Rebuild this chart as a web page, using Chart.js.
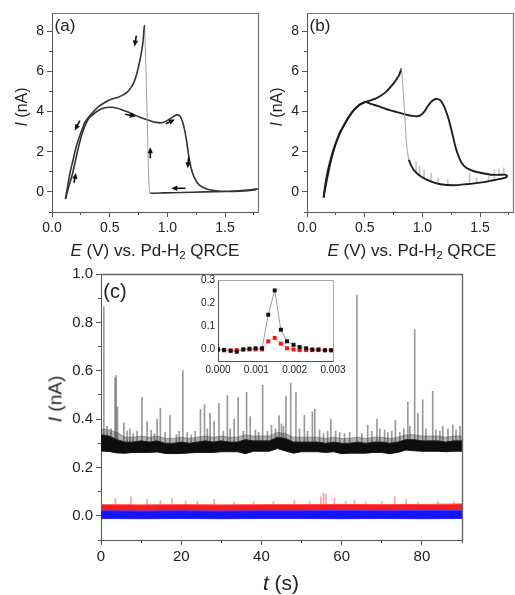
<!DOCTYPE html>
<html>
<head>
<meta charset="utf-8">
<script src="https://cdn.jsdelivr.net/npm/chart.js@4.4.1/dist/chart.umd.min.js"></script>
<style>
body { margin: 0; background: #fff; }
#wrap { position: relative; width: 515px; height: 595px; overflow: hidden; background: #fff;
        font-family: "Liberation Sans", Arial, sans-serif; color: #222; }
canvas { position: absolute; }
.lbl { position: absolute; white-space: nowrap; transform: translate(-50%, -50%); line-height: 1; }
.rot { transform: translate(-50%, -50%) rotate(-90deg); }
sub { font-size: 68%; vertical-align: -0.3em; line-height: 0; }
</style>
</head>
<body>
<div id="wrap">
  <canvas id="chartA" width="262" height="240" style="left:0;top:0"></canvas>
  <canvas id="chartB" width="260" height="240" style="left:255px;top:0"></canvas>
  <canvas id="chartC" width="515" height="333" style="left:0;top:262px"></canvas>
  <canvas id="chartInset" width="170" height="108" style="left:190px;top:270px"></canvas>

  <div class="lbl" style="left:65px;top:25px;font-size:17px">(a)</div>
  <div class="lbl" style="left:320px;top:25px;font-size:17px">(b)</div>
  <div class="lbl" style="left:115px;top:291px;font-size:20px">(c)</div>
  <div class="lbl" style="left:155px;top:250px;font-size:17px"><i>E</i> (V) vs. Pd-H<sub>2</sub> QRCE</div>
  <div class="lbl" style="left:412px;top:250px;font-size:17px"><i>E</i> (V) vs. Pd-H<sub>2</sub> QRCE</div>
  <div class="lbl rot" style="left:22px;top:107px;font-size:16px"><i>I</i> (nA)</div>
  <div class="lbl rot" style="left:277px;top:107px;font-size:16px"><i>I</i> (nA)</div>
  <div class="lbl rot" style="left:55px;top:399px;font-size:19px"><i>I</i> (nA)</div>
  <div class="lbl" style="left:281px;top:582px;font-size:21px"><i>t</i> (s)</div>
</div>
<script>
// ---- panel (a): CV, E (V) and I (nA), in scan order ----
var aE = [0.117,0.142,0.173,0.203,0.233,0.264,0.294,0.325,0.376,0.426,0.477,0.538,0.599,0.66,0.72,0.78,0.84,0.9,0.95,0.99,
          1.035,1.075,1.105,1.125,1.145,1.165,1.185,1.205,1.235,1.275,1.34,1.42,1.52,1.62,1.72,1.78,
          1.76,1.67,1.52,1.32,1.12,0.965,0.873,0.848,0.84,0.832,0.824,0.815,0.807,0.802,
          0.787,0.771,0.751,0.731,0.71,0.68,0.65,0.609,0.568,0.508,0.457,0.406,0.36,0.315,0.284,0.254,0.223,0.203,0.183,0.162,0.142,0.117];
var aI = [-0.35,0.2,0.8,1.55,2.3,2.95,3.4,3.7,3.95,4.12,4.2,4.2,4.1,3.97,3.82,3.68,3.56,3.46,3.44,3.52,
          3.68,3.82,3.8,3.6,3.2,2.6,1.8,1.2,0.7,0.35,0.15,0.06,0.03,0.05,0.1,0.15,
          0.1,0.05,0.02,0.0,-0.03,-0.05,-0.07,-0.03,0.5,2.0,4.0,6.0,7.5,8.3,
          7.4,6.8,6.25,5.8,5.45,5.15,4.95,4.8,4.7,4.6,4.45,4.25,4.0,3.7,3.45,3.0,2.5,2.1,1.6,1.1,0.5,-0.35];
// scan-direction arrows: position and direction (degrees, 0 = right, 90 = down)
var arrowE = [0.723, 0.219, 0.199, 0.68, 1.026, 1.18, 1.095, 0.852];
var arrowI = [7.5, 3.3, 0.7, 3.81, 3.5, 1.45, 0.18, 1.95];
var arrowDir = [100, 118, -78, 12, -25, 95, 180, -90];
var arrowLen = [11, 11, 10, 11, 10, 11, 14, 11];

// ---- panel (b) ----
var bE = [0.144,0.162,0.183,0.203,0.233,0.264,0.305,0.345,0.386,0.426,0.467,0.508,0.558,0.609,0.66,0.71,0.761,0.812,0.863,0.914,
          0.954,0.985,1.015,1.045,1.076,1.106,1.127,1.157,1.188,1.218,1.238,1.264,1.284,1.309,1.34,1.38,1.441,1.523,1.604,1.675,1.71,1.735,
          1.725,1.685,1.614,1.502,1.38,1.269,1.157,1.066,0.985,0.924,0.883,0.863,0.851,0.839,0.828,0.817,
          0.802,0.782,0.751,0.721,0.68,0.639,0.599,0.558,0.518,0.487,0.447,0.406,0.365,0.325,0.284,0.254,0.223,0.193,0.173,0.157,0.144];
var bI = [-0.28,0.3,0.9,1.45,2.1,2.62,3.15,3.58,3.92,4.18,4.38,4.47,4.37,4.28,4.18,4.08,4.0,3.92,3.84,3.78,
          3.76,3.82,3.98,4.25,4.48,4.6,4.63,4.55,4.25,3.8,3.4,2.8,2.3,1.85,1.45,1.2,1.04,0.93,0.85,0.85,0.86,0.8,
          0.72,0.66,0.58,0.46,0.38,0.33,0.38,0.54,0.78,1.1,1.6,2.4,3.5,4.6,5.5,6.1,
          5.85,5.65,5.4,5.2,4.95,4.78,4.65,4.57,4.5,4.42,4.3,4.08,3.75,3.35,2.95,2.5,1.98,1.35,0.85,0.3,-0.28];
// noise spikes on the (b) trace: E, start, end
var bSpikeE = [0.945,0.975,1.015,1.075,1.135,1.22,1.41,1.47,1.575,1.625,1.665,1.705];
var bSpikeLo = [0.95,0.8,0.68,0.5,0.4,0.34,0.39,0.43,0.53,0.6,0.85,0.85];
var bSpikeHi = [1.5,1.3,1.1,0.95,0.7,0.6,0.95,0.7,0.75,1.1,1.15,1.2];

// ---- panel (c): current bands vs time ----
var tBand = [0,2,4,6,8,10,12,14,16,18,20,22,24,26,28,30,32,34,36,38,40,42,44,46,48,50,52,54,56,58,60,62,64,66,68,70,72,74,76,78,80,82,84,86,88,90];
var blackFuzz = [0.36,0.355,0.345,0.325,0.325,0.33,0.325,0.33,0.32,0.32,0.325,0.32,0.325,0.33,0.325,0.33,0.325,0.325,0.335,0.33,0.33,0.33,0.345,0.34,
                 0.325,0.325,0.325,0.325,0.32,0.325,0.32,0.32,0.325,0.32,0.325,0.325,0.32,0.325,0.335,0.335,0.33,0.33,0.33,0.325,0.33,0.33];
var blackHi = [0.335,0.33,0.315,0.305,0.305,0.31,0.305,0.31,0.3,0.3,0.305,0.3,0.305,0.31,0.305,0.31,0.305,0.305,0.315,0.31,0.31,0.31,0.325,0.32,
               0.305,0.305,0.305,0.305,0.3,0.305,0.3,0.3,0.305,0.3,0.305,0.305,0.3,0.305,0.315,0.315,0.31,0.31,0.31,0.305,0.31,0.31];
var blackLo = [0.268,0.266,0.26,0.259,0.262,0.262,0.262,0.264,0.258,0.257,0.258,0.26,0.262,0.262,0.262,0.265,0.265,0.265,0.257,0.267,0.267,0.267,0.278,0.268,
               0.259,0.265,0.265,0.265,0.262,0.265,0.257,0.259,0.259,0.259,0.262,0.262,0.257,0.262,0.272,0.269,0.267,0.267,0.267,0.265,0.267,0.267];
var tRB = [0,10,20,30,40,50,60,70,80,90];
var redHi = [0.046,0.045,0.046,0.045,0.046,0.046,0.047,0.046,0.047,0.049];
var redLo = [0.022,0.021,0.022,0.021,0.022,0.022,0.023,0.022,0.023,0.024];
var blueHi = [0.021,0.02,0.021,0.02,0.021,0.021,0.022,0.021,0.022,0.022];
var blueLo = [-0.011,-0.012,-0.011,-0.012,-0.011,-0.011,-0.012,-0.011,-0.012,-0.011];
// spikes on black trace (t, peak I)
var spikeT = [0.7,3.5,3.8,4.1,5.7,8,10.2,11.5,14,14.8,17.2,18.8,20.4,22.5,24.8,25.8,27.2,28.2,29.4,31.5,33.2,34.2,36.3,37.2,40.3,42.5,44.4,
              46.1,47.3,48.6,50.7,52.7,53.3,57.3,60.7,63.8,66.5,68.8,70.7,73.4,76.5,78.2,79,80.2,82.7,85.2,87.7,89.5,
              1.5,2.5,6.5,7.2,9,12.5,13.3,16,19.5,21.5,23.5,26.5,30.5,32.2,35.5,38.5,39.3,41.5,43.5,45,45.5,49.5,51.5,54.5,55.5,
              56.5,58.5,59.5,62,65,67.5,69.5,71.5,72.5,74.5,75.5,77,81,83.5,84.5,86.5,88.5];
var spikeI = [0.865,0.57,0.58,0.45,0.385,0.34,0.49,0.39,0.4,0.445,0.415,0.335,0.6,0.335,0.44,0.46,0.425,0.39,0.465,0.497,0.4,0.49,0.51,0.41,0.54,0.375,0.415,
              0.495,0.55,0.51,0.415,0.43,0.44,0.4,0.34,0.913,0.375,0.4,0.355,0.395,0.47,0.77,0.425,0.48,0.515,0.37,0.375,0.37,
              0.37,0.36,0.35,0.36,0.35,0.355,0.34,0.345,0.35,0.345,0.35,0.36,0.35,0.36,0.35,0.355,0.345,0.35,0.36,0.38,0.37,0.36,0.35,0.355,0.34,
              0.35,0.35,0.345,0.345,0.34,0.35,0.36,0.345,0.35,0.345,0.36,0.37,0.36,0.355,0.35,0.36,0.355];
var redSpikeT = [3.6,7.5,11.5,14.8,17.7,21.1,24,28.2,33.2,38,43,48.2,52,54.8,55.5,56.1,58.2,61,63.2,66,70,73.2,76.1,79,84,88];
var redSpikeI = [0.072,0.079,0.068,0.065,0.072,0.061,0.06,0.068,0.058,0.058,0.06,0.065,0.06,0.079,0.095,0.09,0.072,0.06,0.065,0.058,0.06,0.079,0.068,0.058,0.06,0.058];

// ---- inset: one spike event ----
var insetT = [0,0.00016,0.00033,0.00049,0.00066,0.00082,0.00098,0.00115,0.00131,0.00148,0.00164,0.0018,0.00197,0.00213,0.0023,0.00246,0.00262,0.00279,0.00295];
var insetBlack = [0.0,-0.002,-0.006,-0.01,0.0,0.003,0.005,0.005,0.15,0.255,0.085,0.035,0.02,0.01,0.005,0.0,0.0,-0.004,-0.004];
var insetRed = [0.0,-0.004,-0.004,-0.003,0.0,0.0,0.0,0.0,0.035,0.05,0.025,0.005,0.0,-0.003,-0.003,-0.003,-0.003,-0.003,-0.003];

var FONT = "'Liberation Sans', Arial, sans-serif";

function pts(xs, ys) { return xs.map(function (x, i) { return {x: x, y: ys[i]}; }); }
function bars(xs, lo, hi) {
  return xs.map(function (x, i) { return {x: x, y: [Array.isArray(lo) ? lo[i] : lo, hi[i]]}; });
}

function scale(min, max, ticks, digits, fontSize, fit, tickLen) {
  return {
    type: 'linear', min: min, max: max, offset: false,
    afterBuildTicks: function (s) { s.ticks = ticks.map(function (v) { return {value: v}; }); },
    afterFit: function (s) { if (s.isHorizontal()) s.height = fit; else s.width = fit; },
    grid: { drawOnChartArea: false, drawTicks: tickLen > 0, tickLength: tickLen, color: '#555', offset: false },
    border: { color: '#555' },
    ticks: { padding: 3, color: '#222', font: { family: FONT, size: fontSize }, maxRotation: 0, autoSkip: false,
             callback: function (v) { return Number(v).toFixed(digits); } }
  };
}

// box on top/right and minor ticks
var framePlugin = {
  id: 'frame',
  afterDraw: function (chart, args, o) {
    var a = chart.chartArea, c = chart.ctx;
    var px = function (p) { return Math.round(p - 0.5) + 0.5; };
    c.save();
    c.strokeStyle = o.color || '#555';
    c.lineWidth = o.width || 1;
    c.beginPath();
    c.moveTo(px(a.left), px(a.top)); c.lineTo(px(a.right), px(a.top)); c.lineTo(px(a.right), px(a.bottom));
    c.stroke();
    c.strokeStyle = '#555';
    c.lineWidth = 1;
    c.beginPath();
    if (o.minorX) {
      var xs = chart.scales.x;
      for (var k = Math.ceil(xs.min / o.minorX - 1e-6); k * o.minorX <= xs.max + 1e-9; k++) {
        var x = px(xs.getPixelForValue(k * o.minorX));
        c.moveTo(x, a.bottom); c.lineTo(x, a.bottom + o.len);
      }
    }
    if (o.minorY) {
      var ys = chart.scales.y;
      for (var j = Math.ceil(ys.min / o.minorY - 1e-6); j * o.minorY <= ys.max + 1e-9; j++) {
        var y = px(ys.getPixelForValue(j * o.minorY));
        c.moveTo(a.left - o.len, y); c.lineTo(a.left, y);
      }
    }
    c.stroke();
    c.restore();
  }
};

var arrowPlugin = {
  id: 'arrows',
  afterDatasetsDraw: function (chart, args, o) {
    if (!o.E) return;
    var c = chart.ctx, xs = chart.scales.x, ys = chart.scales.y;
    c.save();
    c.fillStyle = '#111'; c.strokeStyle = '#111'; c.lineWidth = 1.6;
    for (var i = 0; i < o.E.length; i++) {
      var cx = xs.getPixelForValue(o.E[i]), cy = ys.getPixelForValue(o.I[i]);
      var ang = o.dir[i] * Math.PI / 180, L = o.len[i];
      var dx = Math.cos(ang), dy = Math.sin(ang);
      var hx = cx + dx * L / 2, hy = cy + dy * L / 2;
      c.beginPath();
      c.moveTo(cx - dx * L / 2, cy - dy * L / 2); c.lineTo(hx - dx * 4, hy - dy * 4); c.stroke();
      c.beginPath();
      c.moveTo(hx, hy);
      c.lineTo(hx - dx * 6 - dy * 2.7, hy - dy * 6 + dx * 2.7);
      c.lineTo(hx - dx * 6 + dy * 2.7, hy - dy * 6 - dx * 2.7);
      c.closePath(); c.fill();
    }
    c.restore();
  }
};

// fast potential jump segments (reverse scan, current rising steeply) are thin and light
function jump(thin, normal) {
  return function (ctx) {
    var dx = ctx.p1.x - ctx.p0.x, dy = ctx.p1.y - ctx.p0.y;
    return (dx < 0.5 && dy < 0 && Math.abs(dy) > 3 * Math.abs(dx) && Math.abs(dy) > 6) ? thin : normal;
  };
}

function cvChart(id, E, I, color, width, extra, plugOpts, padRight) {
  var datasets = [{
    type: 'line', data: pts(E, I), borderColor: color, borderWidth: width, pointRadius: 0, tension: 0.25, fill: false,
    segment: { borderColor: jump('#9c9c9c', color), borderWidth: jump(1, width) }, order: 1
  }];
  if (extra) datasets.push(extra);
  return new Chart(document.getElementById(id), {
    type: 'line',
    data: { datasets: datasets },
    options: {
      responsive: false, animation: false, events: [],
      layout: { padding: { top: 13, right: padRight, left: 0, bottom: 0 } },
      scales: {
        x: scale(0, 1.79, [0, 0.5, 1.0, 1.5], 1, 14, 28, 5),
        y: scale(-1, 8.9, [0, 2, 4, 6, 8], 0, 14, 52, 5)
      },
      plugins: Object.assign({ legend: { display: false }, tooltip: { enabled: false },
                               frame: { color: '#777', width: 1.2, minorX: 0.25, minorY: 1, len: 3 } }, plugOpts)
    },
    plugins: [framePlugin, arrowPlugin]
  });
}

cvChart('chartA', aE, aI, '#333', 1.6, null,
        { arrows: { E: arrowE, I: arrowI, dir: arrowDir, len: arrowLen } }, 3.5);

cvChart('chartB', bE, bI, '#1e1e1e', 1.9,
        { type: 'bar', data: bars(bSpikeE, bSpikeLo, bSpikeHi), backgroundColor: 'rgba(150,150,150,0.55)',
          barThickness: 1, grouped: false, order: 2 },
        { arrows: {} }, 1.5);

new Chart(document.getElementById('chartC'), {
  type: 'line',
  data: {
    datasets: [
      { type: 'line', data: pts(tBand, blackFuzz), fill: '+1', backgroundColor: 'rgba(40,40,40,0.35)', borderColor: 'rgba(90,90,90,0.5)',
        borderWidth: 1, pointRadius: 0, order: 1 },
      { type: 'line', data: pts(tBand, blackHi), fill: '+1', backgroundColor: '#0d0d0d', borderColor: '#222',
        borderWidth: 1, pointRadius: 0, order: 1 },
      { type: 'line', data: pts(tBand, blackLo), fill: false, borderColor: '#222', borderWidth: 1, pointRadius: 0, order: 1 },
      { type: 'line', data: pts(tRB, blueHi), fill: '+1', backgroundColor: '#1414ff', borderColor: '#3a3aff',
        borderWidth: 1, pointRadius: 0, order: 2 },
      { type: 'line', data: pts(tRB, blueLo), fill: false, borderColor: '#3a3aff', borderWidth: 1, pointRadius: 0, order: 2 },
      { type: 'line', data: pts(tRB, redHi), fill: '+1', backgroundColor: '#ff1a1a', borderColor: '#ff4040',
        borderWidth: 1, pointRadius: 0, order: 3 },
      { type: 'line', data: pts(tRB, redLo), fill: false, borderColor: '#ff4040', borderWidth: 1, pointRadius: 0, order: 3 },
      { type: 'bar', data: bars(spikeT, 0.29, spikeI), backgroundColor: 'rgba(70,70,70,0.55)',
        barThickness: 1, grouped: false, order: 4 },
      { type: 'bar', data: bars(redSpikeT, 0.035, redSpikeI), backgroundColor: 'rgba(255,70,70,0.5)',
        barThickness: 1, grouped: false, order: 5 }
    ]
  },
  options: {
    responsive: false, animation: false, events: [],
    layout: { padding: { top: 12, right: 53, left: 0, bottom: 0 } },
    scales: {
      x: scale(0, 90, [0, 20, 40, 60, 80], 0, 15, 55, 5),
      y: scale(-0.1, 1.0, [0, 0.2, 0.4, 0.6, 0.8, 1.0], 1, 15, 101, 5)
    },
    plugins: { legend: { display: false }, tooltip: { enabled: false },
               frame: { color: '#666', width: 1.4, minorX: 10, minorY: 0.1, len: 3 } }
  },
  plugins: [framePlugin]
});

new Chart(document.getElementById('chartInset'), {
  type: 'line',
  data: {
    datasets: [
      { data: pts(insetT, insetBlack), borderColor: '#9a9a9a', borderWidth: 1, pointStyle: 'rect', pointRadius: 2.8,
        pointBackgroundColor: '#111', pointBorderWidth: 0, order: 1 },
      { data: pts(insetT, insetRed), borderColor: '#ff9a9a', borderWidth: 1, pointStyle: 'rect', pointRadius: 2.8,
        pointBackgroundColor: '#ff1010', pointBorderWidth: 0, order: 2 }
    ]
  },
  options: {
    responsive: false, animation: false, events: [],
    layout: { padding: { top: 10, right: 27, left: 0, bottom: 0 } },
    scales: {
      x: scale(0, 0.003, [0, 0.001, 0.002, 0.003], 3, 10, 17, 0),
      y: scale(-0.05, 0.3, [0, 0.1, 0.2, 0.3], 1, 10, 28, 0)
    },
    plugins: { legend: { display: false }, tooltip: { enabled: false }, frame: { color: '#aaa', len: 0 } }
  },
  plugins: [framePlugin]
});
</script>
</body>
</html>
